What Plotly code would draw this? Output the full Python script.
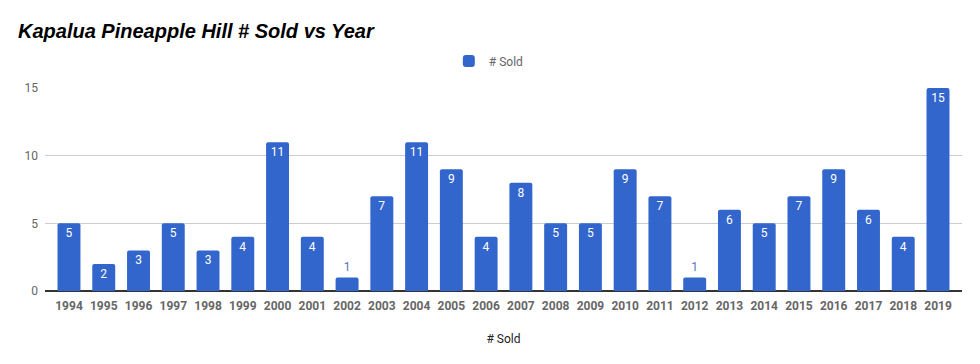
import plotly.graph_objects as go

years = [str(y) for y in range(1994, 2020)]
sold = [5, 2, 3, 5, 3, 4, 11, 4, 1, 7, 11, 9, 4, 8, 5, 5, 9, 7, 1, 6, 5, 7, 9, 6, 4, 15]
y_ticks = [0, 5, 10, 15]

BLUE = "#3366cc"
positions = ["inside" if v >= 2 else "outside" for v in sold]

fig = go.Figure(
    go.Bar(
        x=years,
        y=sold,
        name="# Sold",
        marker=dict(color=BLUE, cornerradius=2, line=dict(width=0)),
        text=[str(v) for v in sold],
        textposition=positions,
        insidetextanchor="end",
        insidetextfont=dict(color="white", size=12, family="Roboto"),
        outsidetextfont=dict(color="#5a6fc8", size=12, family="Roboto"),
        textangle=0,
        cliponaxis=False,
        showlegend=True,
    )
)

W, H = 972, 356
fig.update_layout(
    width=W,
    height=H,
    margin=dict(l=37, r=18, t=80, b=73, autoexpand=False),
    paper_bgcolor="white",
    plot_bgcolor="white",
    font=dict(family="Roboto", size=12, color="#666666"),
    bargap=0.34,
    title=dict(
        text="<b><i>Kapalua Pineapple Hill # Sold vs Year</i></b>",
        font=dict(family="Liberation Sans, Arial", size=20, color="#000000"),
        xref="container", yref="container",
        x=10 / W, xanchor="left",
        y=1 - 23 / H, yanchor="middle",
    ),
    legend=dict(
        orientation="h",
        x=0.484, xanchor="center",
        y=1.133, yanchor="middle",
        font=dict(family="Roboto", size=12, color="#666666"),
    ),
)

fig.update_xaxes(
    type="category",
    range=[-0.69, len(years) - 1 + 0.69],
    tickfont=dict(family="Roboto", size=12, color="#666666", weight="bold"),
    showgrid=False,
    showline=False,
    ticks="",
    ticklabelstandoff=6,
    title=dict(text="# Sold", font=dict(family="Roboto", size=12, color="#222222"), standoff=22),
)

fig.update_yaxes(
    range=[0, 15],
    tickvals=y_ticks,
    ticktext=[str(v) for v in y_ticks],
    showgrid=True,
    gridcolor="#cccccc",
    gridwidth=1,
    zeroline=True,
    zerolinecolor="#333333",
    zerolinewidth=1.5,
    ticks="",
    tickfont=dict(family="Roboto", size=12, color="#666666"),
    ticklabelstandoff=6,
)

fig.write_html("out.html")
